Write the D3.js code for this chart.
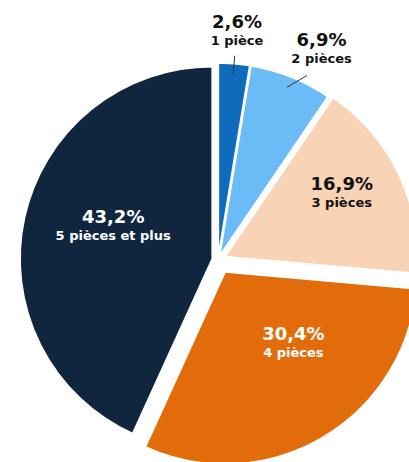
<!DOCTYPE html>
<html>
<head>
<meta charset="utf-8">
<script src="https://cdn.jsdelivr.net/npm/d3@7"></script>
<style>
body { margin: 0; background: #fff; }
</style>
</head>
<body>
<div id="chart"></div>
<script>
var w = 409;
var h = 462;

var categories = ["1 pièce", "2 pièces", "3 pièces", "4 pièces", "5 pièces et plus"];
var values = [2.6, 6.9, 16.9, 30.4, 43.2];
var valueLabels = ["2,6%", "6,9%", "16,9%", "30,4%", "43,2%"];

var colors = ["#0f6cbd", "#6bbbf6", "#f9d3b5", "#e36c0a", "#10263f"];
var textColors = ["#111", "#111", "#111", "#fff", "#fff"];

// how far each slice is pulled out of the pie
var explode = [5, 5, 8, 14, 6];
// where the labels sit: distance from centre, angle nudge in degrees
var labelDist = [233, 238, 142, 110, 111];
var labelNudge = [0, 4, -4, -13, 7];
// slices 0 and 1 get a leader line
var hasLeader = [true, true, false, false, false];

var cx = 218, cy = 260, radius = 192;

var pie = d3.pie().sort(null).value(function(d) { return d; });
var arc = d3.arc().innerRadius(0).outerRadius(radius);

var svg = d3.select("#chart")
	.append("svg")
	.attr("width", w)
	.attr("height", h);

var g = svg.append("g")
	.attr("transform", "translate(" + cx + "," + cy + ")");

var slices = pie(values);

function polar(r, a) {
	return [r * Math.sin(a), -r * Math.cos(a)];
}
function midAngle(d) {
	return (d.startAngle + d.endAngle) / 2;
}

g.selectAll("path.slice")
	.data(slices)
	.enter()
	.append("path")
	.attr("class", "slice")
	.attr("d", arc)
	.attr("fill", function(d, i) { return colors[i]; })
	.attr("stroke", "#fff")
	.attr("stroke-width", 1.5)
	.attr("transform", function(d, i) {
		var p = polar(explode[i], midAngle(d));
		return "translate(" + p[0] + "," + p[1] + ")";
	});

// leader lines for the small slices
g.selectAll("line.leader")
	.data(slices.filter(function(d, i) { return hasLeader[i]; }))
	.enter()
	.append("line")
	.attr("class", "leader")
	.attr("x1", function(d) { return polar(radius - 6, midAngle(d))[0]; })
	.attr("y1", function(d) { return polar(radius - 6, midAngle(d))[1]; })
	.attr("x2", function(d) { return polar(radius + 13, midAngle(d) + labelNudge[d.index] * Math.PI / 180)[0]; })
	.attr("y2", function(d) { return polar(radius + 13, midAngle(d) + labelNudge[d.index] * Math.PI / 180)[1]; })
	.attr("stroke", "#333")
	.attr("stroke-width", 1);

var labels = g.selectAll("g.label")
	.data(slices)
	.enter()
	.append("g")
	.attr("class", "label")
	.attr("transform", function(d, i) {
		var p = polar(labelDist[i], midAngle(d) + labelNudge[i] * Math.PI / 180);
		return "translate(" + p[0] + "," + p[1] + ")";
	});

labels.append("text")
	.attr("text-anchor", "middle")
	.attr("font-family", "'DejaVu Sans', sans-serif")
	.attr("font-weight", "bold")
	.attr("font-size", 18)
	.attr("fill", function(d, i) { return textColors[i]; })
	.text(function(d, i) { return valueLabels[i]; });

labels.append("text")
	.attr("text-anchor", "middle")
	.attr("y", 17)
	.attr("font-family", "'DejaVu Sans', sans-serif")
	.attr("font-weight", "bold")
	.attr("font-size", 13)
	.attr("fill", function(d, i) { return textColors[i]; })
	.text(function(d, i) { return categories[i]; });
</script>
</body>
</html>
